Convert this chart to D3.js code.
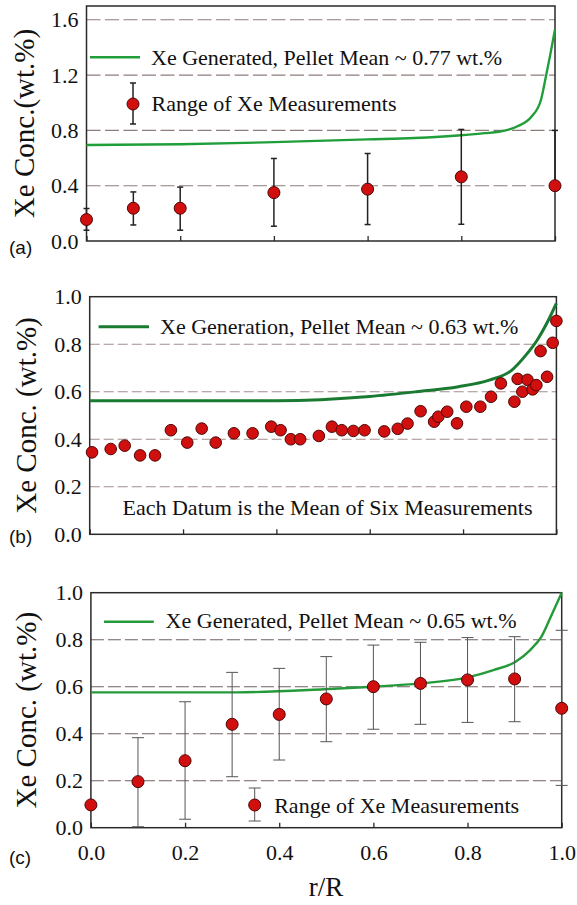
<!DOCTYPE html>
<html>
<head>
<meta charset="utf-8">
<script src="https://cdn.jsdelivr.net/npm/d3@7"></script>
<style>
  body { margin: 0; background: #fff; }
  text { font-family: "Liberation Serif", "Times New Roman", serif; fill: #111; }
  .tag { font-family: "Liberation Sans", Arial, sans-serif; }
</style>
</head>
<body>
<svg width="577" height="905"></svg>
<script>
// shared x axis
const rTicks = [0, 0.2, 0.4, 0.6, 0.8, 1.0]

// panel (a)
const aYTicks = [0, 0.4, 0.8, 1.2, 1.6]
const aGrid = [0.4, 0.8, 1.2, 1.6]
const aGenR = [0, 0.2, 0.4, 0.6, 0.7, 0.8, 0.85, 0.88, 0.92, 0.95, 0.97, 0.98, 0.99, 1.0]
const aGenC = [0.695, 0.70, 0.715, 0.735, 0.745, 0.765, 0.78, 0.79, 0.83, 0.90, 1.02, 1.18, 1.35, 1.53]
const aMeasR = [0, 0.1, 0.2, 0.4, 0.6, 0.8, 1.0]
const aMeasC = [0.155, 0.237, 0.237, 0.35, 0.375, 0.464, 0.40]
const aMeasLo = [0.078, 0.116, 0.078, 0.107, 0.119, 0.121, 0.38]
const aMeasHi = [0.235, 0.355, 0.39, 0.597, 0.633, 0.807, 0.80]

// panel (b)
const bYTicks = [0, 0.2, 0.4, 0.6, 0.8, 1.0]
const bGrid = [0.2, 0.4, 0.6, 0.8]
const bGenR = [0, 0.4, 0.6, 0.7, 0.79, 0.856, 0.904, 0.935, 0.959, 0.983, 1.0]
const bGenC = [0.562, 0.562, 0.58, 0.60, 0.621, 0.649, 0.69, 0.755, 0.818, 0.902, 0.972]
const bMeasR = [0.005, 0.045, 0.075, 0.108, 0.14, 0.174, 0.209, 0.24, 0.27, 0.309, 0.349,
  0.389, 0.409, 0.431, 0.451, 0.491, 0.519, 0.54, 0.565, 0.589, 0.631, 0.66, 0.681, 0.709,
  0.738, 0.747, 0.766, 0.787, 0.807, 0.837, 0.86, 0.881, 0.91, 0.917, 0.927, 0.938, 0.949,
  0.957, 0.966, 0.98, 0.992, 1.0]
const bMeasC = [0.345, 0.359, 0.373, 0.332, 0.332, 0.438, 0.386, 0.445, 0.386, 0.425, 0.425,
  0.453, 0.438, 0.40, 0.40, 0.414, 0.453, 0.438, 0.435, 0.438, 0.433, 0.444, 0.466, 0.518,
  0.474, 0.495, 0.516, 0.467, 0.537, 0.537, 0.579, 0.635, 0.558, 0.654, 0.60, 0.65, 0.61,
  0.628, 0.771, 0.663, 0.806, 0.898]

// panel (c)
const cYTicks = [0, 0.2, 0.4, 0.6, 0.8, 1.0]
const cGrid = [0.2, 0.4, 0.6, 0.8]
const cGenR = [0, 0.31, 0.495, 0.6, 0.7, 0.8, 0.855, 0.902, 0.933, 0.957, 0.98, 1.0]
const cGenC = [0.576, 0.576, 0.589, 0.60, 0.614, 0.64, 0.671, 0.706, 0.756, 0.813, 0.912, 1.0]
const cMeasR = [0, 0.1, 0.2, 0.3, 0.4, 0.5, 0.6, 0.7, 0.8, 0.9, 1.0]
const cMeasC = [0.097, 0.196, 0.285, 0.44, 0.482, 0.548, 0.60, 0.614, 0.629, 0.633, 0.508]
const cMeasLo = [null, 0.004, 0.036, 0.217, 0.288, 0.366, 0.419, 0.44, 0.448, 0.451, 0.18]
const cMeasHi = [null, 0.383, 0.536, 0.661, 0.678, 0.728, 0.777, 0.789, 0.809, 0.813, 0.84]

const svg = d3.select('svg')
const fmt = d3.format('.1f')

const zip = (r, c, lo, hi) => r.map((v, i) => ({r: v, c: c[i], lo: lo ? lo[i] : null, hi: hi ? hi[i] : null}))

const panels = [
  {tag: '(a)', tagY: 254, left: 86.5, right: 555, top: 6, bottom: 241, yMax: 1.7,
   yTicks: aYTicks, grid: aGrid, gridColor: '#8f7d7b', dash: '14,4.5',
   gen: zip(aGenR, aGenC), meas: zip(aMeasR, aMeasC, aMeasLo, aMeasHi),
   green: '#1f9e3a', greenW: 2.4, barColor: '#222', barW: 1.5, cap: 3, rad: 6,
   ylabel: 'Xe Conc.(wt.%)', labelX: 24,
   legLine: {x1: 90, x2: 140, y: 57.3, tx: 151, ty: 65, text: 'Xe Generated, Pellet Mean ~ 0.77 wt.%'},
   legDot: {x: 133, y: 104, lo: 83, hi: 124, tx: 151.5, ty: 111, text: 'Range of Xe Measurements'}},
  {tag: '(b)', tagY: 543, left: 89.7, right: 556.4, top: 296.7, bottom: 534.3, yMax: 1.0,
   yTicks: bYTicks, grid: bGrid, gridColor: '#a38f8d', dash: '10,4',
   gen: zip(bGenR, bGenC), meas: zip(bMeasR, bMeasC),
   green: '#1b7a31', greenW: 3, rad: 5.8,
   ylabel: 'Xe Conc. (wt.%)', labelX: 26,
   legLine: {x1: 98.6, x2: 149, y: 326.7, tx: 160, ty: 333.5, text: 'Xe Generation, Pellet Mean ~ 0.63 wt.%'},
   note: {x: 327.5, y: 515, text: 'Each Datum is the Mean of Six Measurements'}},
  {tag: '(c)', tagY: 864, left: 90.9, right: 561.7, top: 592.7, bottom: 827.7, yMax: 1.0,
   yTicks: cYTicks, grid: cGrid, gridColor: '#6f6260', dash: '13,4',
   gen: zip(cGenR, cGenC), meas: zip(cMeasR, cMeasC, cMeasLo, cMeasHi),
   green: '#249a3a', greenW: 2.4, barColor: '#555', barW: 1, cap: 6, rad: 6,
   ylabel: 'Xe Conc. (wt.%)', labelX: 26, showX: true,
   legLine: {x1: 104, x2: 153.8, y: 621.7, tx: 165.6, ty: 627.5, text: 'Xe Generated, Pellet Mean ~ 0.65 wt.%'},
   legDot: {x: 254.7, y: 805, lo: 788, hi: 821, tx: 274.2, ty: 812.5, text: 'Range of Xe Measurements'}}
]

panels.forEach(p => {
  const x = d3.scaleLinear().domain([0, 1]).range([p.left, p.right])
  const y = d3.scaleLinear().domain([0, p.yMax]).range([p.bottom, p.top])
  const g = svg.append('g')

  // dashed grid
  g.selectAll('line.grid').data(p.grid).join('line')
    .attr('x1', p.left).attr('x2', p.right)
    .attr('y1', d => y(d)).attr('y2', d => y(d))
    .attr('stroke', p.gridColor).attr('stroke-width', 1.1)
    .attr('stroke-dasharray', p.dash)

  // frame
  g.append('rect')
    .attr('x', p.left).attr('y', p.top)
    .attr('width', p.right - p.left).attr('height', p.bottom - p.top)
    .attr('fill', 'none').attr('stroke', '#2a2a2a').attr('stroke-width', 1.5)

  // x axis, ticks pointing in
  const xa = g.append('g').attr('transform', `translate(0,${p.bottom})`)
    .call(d3.axisBottom(x).tickValues(rTicks).tickSize(-5).tickPadding(16)
      .tickFormat(p.showX ? fmt : ''))
  xa.select('.domain').remove()
  xa.selectAll('line').attr('stroke', '#2a2a2a').attr('stroke-width', 1.3)
  xa.selectAll('text').attr('font-size', 22).attr('font-family', 'Liberation Serif')
    .attr('fill', '#111').attr('dy', '0.75em')

  // y axis labels
  const ya = g.append('g').attr('transform', `translate(${p.left},0)`)
    .call(d3.axisLeft(y).tickValues(p.yTicks).tickSize(0).tickPadding(8).tickFormat(fmt))
  ya.select('.domain').remove()
  ya.selectAll('text').attr('font-size', 22).attr('font-family', 'Liberation Serif')
    .attr('fill', '#111')

  g.append('text')
    .attr('transform', `translate(${p.labelX},${(p.top + p.bottom) / 2}) rotate(-90)`)
    .attr('text-anchor', 'middle').attr('dy', '0.35em')
    .attr('font-size', 29)
    .text(p.ylabel)

  g.append('text').attr('class', 'tag')
    .attr('x', 9).attr('y', p.tagY).attr('font-size', 19)
    .text(p.tag)

  // generated curve
  const line = d3.line().x(d => x(d.r)).y(d => y(d.c)).curve(d3.curveMonotoneX)
  g.append('path').datum(p.gen)
    .attr('d', line).attr('fill', 'none')
    .attr('stroke', p.green).attr('stroke-width', p.greenW)

  // error bars
  const bars = p.meas.filter(d => d.lo != null)
  g.selectAll('line.bar').data(bars).join('line')
    .attr('x1', d => x(d.r)).attr('x2', d => x(d.r))
    .attr('y1', d => y(d.lo)).attr('y2', d => y(d.hi))
    .attr('stroke', p.barColor).attr('stroke-width', p.barW)
  ;['lo', 'hi'].forEach(k => {
    g.selectAll('line.cap' + k).data(bars).join('line')
      .attr('x1', d => x(d.r) - p.cap).attr('x2', d => x(d.r) + p.cap)
      .attr('y1', d => y(d[k])).attr('y2', d => y(d[k]))
      .attr('stroke', p.barColor).attr('stroke-width', p.barW)
  })

  // measured points
  g.selectAll('circle.pt').data(p.meas).join('circle')
    .attr('cx', d => x(d.r)).attr('cy', d => y(d.c)).attr('r', p.rad)
    .attr('fill', '#d20f0f').attr('stroke', '#4d0505').attr('stroke-width', 1)

  // legend
  const L = p.legLine
  g.append('line').attr('x1', L.x1).attr('x2', L.x2).attr('y1', L.y).attr('y2', L.y)
    .attr('stroke', p.green).attr('stroke-width', p.greenW)
  g.append('text').attr('x', L.tx).attr('y', L.ty).attr('font-size', 22).text(L.text)

  if (p.legDot) {
    const D = p.legDot
    g.append('line').attr('x1', D.x).attr('x2', D.x).attr('y1', D.lo).attr('y2', D.hi)
      .attr('stroke', p.barColor).attr('stroke-width', p.barW)
    ;[D.lo, D.hi].forEach(v => g.append('line')
      .attr('x1', D.x - p.cap).attr('x2', D.x + p.cap).attr('y1', v).attr('y2', v)
      .attr('stroke', p.barColor).attr('stroke-width', p.barW))
    g.append('circle').attr('cx', D.x).attr('cy', D.y).attr('r', p.rad)
      .attr('fill', '#d20f0f').attr('stroke', '#4d0505')
    g.append('text').attr('x', D.tx).attr('y', D.ty).attr('font-size', 22).text(D.text)
  }
  if (p.note) {
    g.append('text').attr('x', p.note.x).attr('y', p.note.y)
      .attr('text-anchor', 'middle').attr('font-size', 22).text(p.note.text)
  }
})

svg.append('text')
  .attr('x', 326).attr('y', 896)
  .attr('text-anchor', 'middle').attr('font-size', 27)
  .text('r/R')
</script>
</body>
</html>
